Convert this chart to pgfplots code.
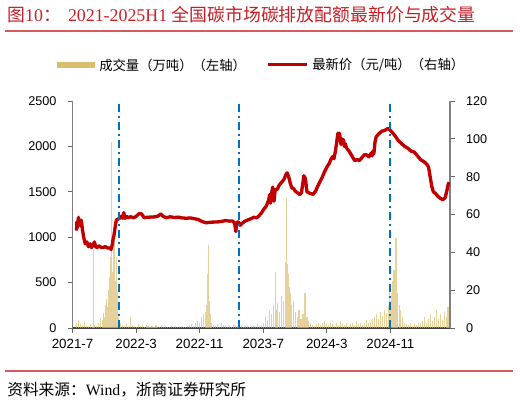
\documentclass[border=0pt]{standalone}
\usepackage{pgfplots}
\pgfplotsset{compat=1.18}
\usepackage{fontspec}
\setmainfont{Liberation Sans}
\newfontfamily\serif{Liberation Serif}
\newfontfamily\cjk{Noto Sans CJK SC}
\definecolor{gold}{RGB}{218,190,110}
\definecolor{pred}{RGB}{192,0,0}
\definecolor{dblue}{RGB}{0,112,192}
\definecolor{tred}{RGB}{200,30,40}
\definecolor{lred}{RGB}{214,90,90}
\pgfplotstableread{
m v
0.50 60
0.75 90
1.00 40
1.25 30
1.50 70
1.75 20
2.00 25
2.25 40
2.50 15
2.60 860
2.75 30
3.00 20
3.25 60
3.50 110
3.75 90
3.90 160
4.00 120
4.10 250
4.20 180
4.30 320
4.40 230
4.50 420
4.60 300
4.70 560
4.80 780
4.85 1050
4.90 1483
4.95 2052
5.00 620
5.10 900
5.20 680
5.30 1000
5.40 520
5.50 780
5.60 400
5.70 250
5.80 120
6.00 60
6.25 30
6.50 20
6.75 40
7.00 25
7.25 125
7.50 30
7.75 20
8.00 15
8.25 40
8.50 20
8.75 30
9.00 15
9.25 35
9.50 20
9.75 10
10.00 25
10.25 15
10.50 30
10.75 20
11.00 10
11.25 30
11.50 15
11.75 20
12.00 10
12.25 15
12.50 25
12.75 10
13.00 20
13.25 15
13.50 10
13.75 20
14.00 15
14.25 10
14.50 25
14.75 30
15.00 40
15.25 20
15.50 60
15.75 80
16.00 50
16.25 120
16.50 150
16.75 180
16.90 250
17.00 600
17.10 914
17.20 300
17.35 150
17.50 60
17.75 30
18.00 20
18.25 40
18.50 15
18.75 60
19.00 30
19.25 20
19.50 10
19.75 30
20.00 15
20.25 40
20.50 30
20.75 20
21.00 15
21.25 25
21.50 10
21.75 30
22.00 20
22.25 15
22.50 25
22.75 30
23.00 20
23.25 40
23.50 25
23.75 30
24.00 60
24.25 120
24.50 90
24.75 200
25.00 150
25.25 250
25.50 620
25.60 200
25.75 280
26.00 180
26.25 350
26.50 300
26.75 730
26.90 1428
27.00 700
27.10 680
27.20 600
27.30 450
27.45 380
27.60 250
27.75 300
28.00 180
28.25 120
28.50 200
28.75 100
29.00 150
29.25 382
29.50 120
29.75 80
30.00 60
30.25 30
30.50 20
30.75 40
31.00 60
31.25 30
31.50 50
31.75 80
32.00 40
32.25 30
32.50 60
32.75 40
33.00 20
33.25 50
33.50 30
33.75 80
34.00 40
34.25 30
34.50 60
34.75 20
35.00 40
35.25 60
35.50 30
35.75 80
36.00 40
36.25 50
36.50 30
36.75 60
37.00 90
37.25 50
37.50 70
37.75 100
38.00 120
38.25 150
38.50 100
38.75 180
39.00 130
39.25 200
39.50 160
39.75 250
39.90 400
40.00 300
40.15 380
40.30 520
40.45 639
40.60 300
40.70 988
40.80 450
40.95 380
41.10 250
41.30 200
41.50 120
41.75 60
42.00 40
42.25 30
42.50 50
42.75 25
43.00 40
43.25 30
43.50 60
43.75 40
44.00 80
44.25 120
44.50 60
44.75 100
45.00 150
45.25 80
45.50 120
45.75 200
46.00 100
46.25 150
46.50 90
46.75 180
47.00 120
47.25 230
47.40 160
}\voltable
\pgfplotstableread{
m p
0.5 51.5
0.55 56
0.6 53
0.7 57
0.75 58.5
0.85 55
0.9 57
1.0 54
1.1 57
1.25 52
1.4 48
1.6 44.5
1.8 45.5
2.0 43
2.2 44.5
2.4 42.5
2.6 44
2.75 45.5
2.9 43
3.1 42.5
3.3 43.5
3.5 42.8
3.8 42.5
4.1 43
4.4 42.3
4.7 42.3
4.85 41.5
5.0 44
5.1 47
5.2 48.5
5.35 53
5.5 57
5.7 57.5
5.9 58
6.1 59
6.3 58
6.45 61
6.6 58
6.8 59
7.0 58.3
7.3 58.8
7.7 58.3
8.0 59
8.4 60.5
8.7 60.3
9.0 58.3
9.3 58.5
9.7 58.6
10.2 58.7
10.7 59
11.1 60.3
11.4 59
11.8 58.3
12.3 58.8
12.8 58.4
13.3 58.6
13.8 58.2
14.3 58
14.8 58.2
15.3 57.8
15.8 57.4
16.3 56.3
16.8 55.6
17.3 55.9
17.8 56
18.3 56.1
18.8 56.4
19.3 56.8
19.7 56.5
20.1 56.6
20.4 55.5
20.55 51
20.7 56
20.9 56
21.1 54.3
21.4 55.5
21.7 56.5
22.0 57
22.4 57.7
22.8 58.5
23.2 58.3
23.5 59.5
23.8 61
24.1 63
24.4 64.5
24.7 68
24.8 70.5
24.9 66
25.0 69
25.1 72.5
25.2 74.5
25.25 70
25.35 67
25.45 71
25.5 73
25.8 73.5
26.0 75.5
26.3 77
26.6 78.5
26.9 81.5
27.0 82
27.2 80
27.4 76.5
27.6 74
27.8 73.8
28.0 72.5
28.3 71.5
28.6 70.5
28.8 71.5
29.0 77
29.1 80.5
29.3 79
29.5 72
29.7 71.5
30.0 71
30.3 70.7
30.6 72.5
30.8 74.5
31.1 77
31.4 79.5
31.7 82.5
32.0 85
32.3 87
32.5 89
32.7 90.5
32.9 89.5
33.1 94
33.3 100
33.4 103
33.5 101.5
33.6 103
33.7 99
33.8 97
33.9 100
34.0 98
34.1 99.5
34.2 96
34.3 97.5
34.5 95
34.8 93.5
35.0 92
35.3 90
35.5 88.5
35.8 89
36.1 88.5
36.4 90
36.7 91.5
37.0 91.5
37.3 90.5
37.6 92.5
37.7 91
37.8 93.5
37.9 92
38.0 95
38.05 98
38.2 101
38.5 102.5
38.9 104
39.3 104.5
39.7 105.5
40.0 104.5
40.3 103
40.6 101.5
41.0 99
41.4 97.5
41.8 96
42.2 95
42.6 93.5
43.0 93
43.4 91
43.8 89
44.2 88
44.6 86.5
44.8 85
45.0 80
45.2 75
45.4 72
45.7 71
46.0 69.5
46.3 68.5
46.6 67.8
46.9 69
47.1 72.5
47.3 76.5
47.5 75.5
}\pricetable
\begin{document}
\begin{tikzpicture}
\path[use as bounding box] (0,0) rectangle (390pt,301.5pt);
% title
\node[anchor=west, inner sep=0pt, text=tred, font=\fontsize{13.4}{15}\selectfont] at (5.25pt,290.6pt)
  {\cjk 图\serif 10\cjk ：\hspace{0.4em}\serif 2021-2025H1 \cjk 全国碳市场碳排放配额最新价与成交量};
\draw[lred, line width=1.1pt] (3.75pt,278.25pt) -- (384.75pt,278.25pt);
% legend
\fill[gold] (42.75pt,250.5pt) rectangle (71.25pt,255pt);
\node[anchor=west, inner sep=0pt, font=\fontsize{10}{12}\selectfont\cjk] at (74.25pt,252.75pt) {成交量（万吨）（左轴）};
\draw[pred, line width=2.25pt] (201pt,252.75pt) -- (230.25pt,252.75pt);
\node[anchor=west, inner sep=0pt, font=\fontsize{10}{12}\selectfont\cjk] at (234pt,252.75pt) {最新价（元/吨）（右轴）};
% bottom rule and source
\draw[lred, line width=0.9pt] (3.75pt,23.25pt) -- (384.75pt,23.25pt);
\node[anchor=west, inner sep=0pt, font=\fontsize{11.8}{13}\selectfont] at (5.25pt,9pt)
  {\cjk 资料来源：\serif Wind\cjk ，浙商证券研究所};
\begin{axis}[
  at={(54.4pt,55.5pt)}, anchor=south west,
  scale only axis, width=283.1pt, height=170.25pt,
  xmin=0, xmax=47.5, ymin=0, ymax=2500,
  axis y line*=left, axis x line*=bottom,
  xtick={0,8,16,24,32,40},
  xticklabels={2021-7,2022-3,2022-11,2023-7,2024-3,2024-11},
  ytick={0,500,1000,1500,2000,2500},
  tick align=outside, major tick length=3.5pt,
  x axis line style={-, black!75, line width=0.8pt},
  y axis line style={-, black!50, line width=0.8pt},
  tick style={black!60, line width=0.7pt},
  xticklabel style={font=\fontsize{10}{12}\selectfont, yshift=-1pt},
  yticklabel style={font=\fontsize{9.5}{11}\selectfont, xshift=-5pt},
  /pgf/number format/assume math mode=true,
  /pgf/number format/1000 sep={},
]
\addplot[ycomb, no markers, gold, opacity=0.7, line width=0.8pt] table[x=m, y=v] {\voltable};
\end{axis}
\begin{axis}[
  at={(54.4pt,55.5pt)}, anchor=south west,
  scale only axis, width=283.1pt, height=170.25pt,
  xmin=0, xmax=47.5, ymin=0, ymax=120,
  axis y line*=right, axis x line=none,
  ytick={0,20,40,60,80,100,120},
  tick align=outside, major tick length=3.5pt,
  y axis line style={-, black!50, line width=0.8pt},
  tick style={black!60, line width=0.7pt},
  yticklabel style={font=\fontsize{9.5}{11}\selectfont, xshift=5pt},
  /pgf/number format/assume math mode=true,
]
\addplot[pred, line width=2.5pt, line join=round, no markers] table[x=m, y=p] {\pricetable};
\addplot[dblue, line width=1.5pt, dash pattern=on 6pt off 3pt on 1.5pt off 3pt, no markers] coordinates {(5.8,0) (5.8,120)};
\addplot[dblue, line width=1.5pt, dash pattern=on 6pt off 3pt on 1.5pt off 3pt, no markers] coordinates {(21,0) (21,120)};
\addplot[dblue, line width=1.5pt, dash pattern=on 6pt off 3pt on 1.5pt off 3pt, no markers] coordinates {(40,0) (40,120)};
\end{axis}
\end{tikzpicture}
\end{document}
